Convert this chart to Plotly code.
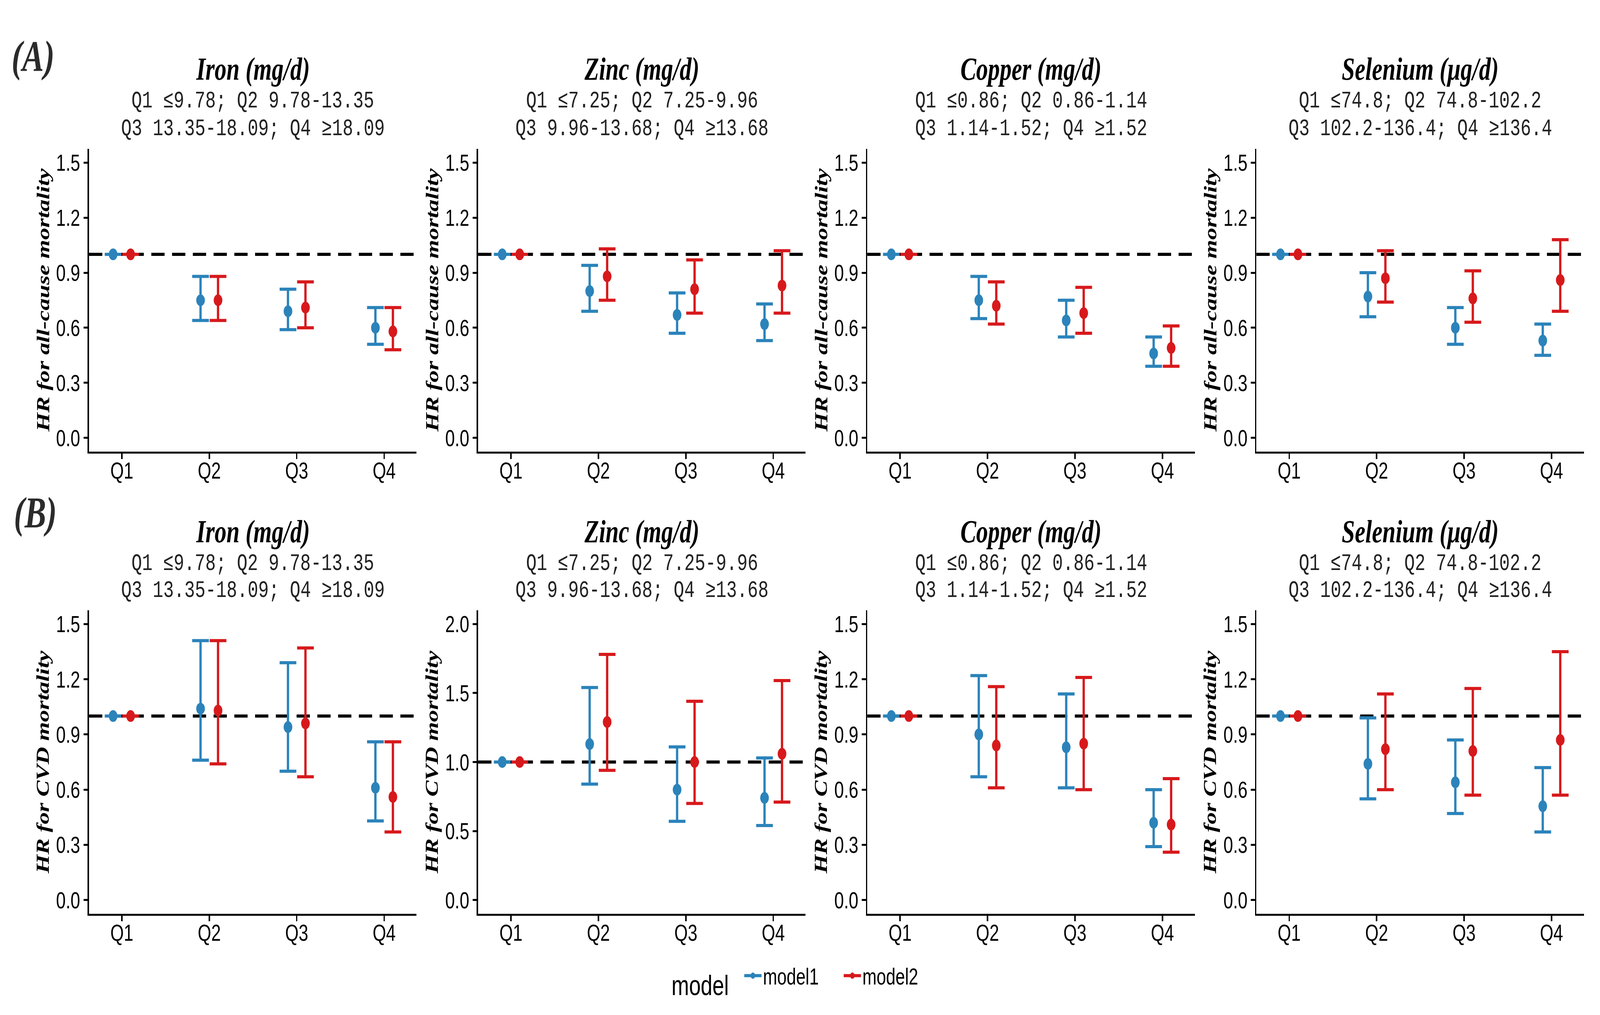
import plotly.graph_objects as go

# quartile labels and nutrient panels
quartiles = ["Q1", "Q2", "Q3", "Q4"]
nutrients = ["Iron (mg/d)", "Zinc (mg/d)", "Copper (mg/d)", "Selenium (μg/d)"]
cut_line1 = ["Q1 ≤9.78; Q2 9.78-13.35", "Q1 ≤7.25; Q2 7.25-9.96",
             "Q1 ≤0.86; Q2 0.86-1.14", "Q1 ≤74.8; Q2 74.8-102.2"]
cut_line2 = ["Q3 13.35-18.09; Q4 ≥18.09", "Q3 9.96-13.68; Q4 ≥13.68",
             "Q3 1.14-1.52; Q4 ≥1.52", "Q3 102.2-136.4; Q4 ≥136.4"]

# (A) all-cause mortality
iron_all_m1 = [1.00, 0.75, 0.69, 0.60]
iron_all_m1_lo = [1.00, 0.64, 0.59, 0.51]
iron_all_m1_hi = [1.00, 0.88, 0.81, 0.71]
iron_all_m2 = [1.00, 0.75, 0.71, 0.58]
iron_all_m2_lo = [1.00, 0.64, 0.60, 0.48]
iron_all_m2_hi = [1.00, 0.88, 0.85, 0.71]

zinc_all_m1 = [1.00, 0.80, 0.67, 0.62]
zinc_all_m1_lo = [1.00, 0.69, 0.57, 0.53]
zinc_all_m1_hi = [1.00, 0.94, 0.79, 0.73]
zinc_all_m2 = [1.00, 0.88, 0.81, 0.83]
zinc_all_m2_lo = [1.00, 0.75, 0.68, 0.68]
zinc_all_m2_hi = [1.00, 1.03, 0.97, 1.02]

copper_all_m1 = [1.00, 0.75, 0.64, 0.46]
copper_all_m1_lo = [1.00, 0.65, 0.55, 0.39]
copper_all_m1_hi = [1.00, 0.88, 0.75, 0.55]
copper_all_m2 = [1.00, 0.72, 0.68, 0.49]
copper_all_m2_lo = [1.00, 0.62, 0.57, 0.39]
copper_all_m2_hi = [1.00, 0.85, 0.82, 0.61]

selenium_all_m1 = [1.00, 0.77, 0.60, 0.53]
selenium_all_m1_lo = [1.00, 0.66, 0.51, 0.45]
selenium_all_m1_hi = [1.00, 0.90, 0.71, 0.62]
selenium_all_m2 = [1.00, 0.87, 0.76, 0.86]
selenium_all_m2_lo = [1.00, 0.74, 0.63, 0.69]
selenium_all_m2_hi = [1.00, 1.02, 0.91, 1.08]

# (B) CVD mortality
iron_cvd_m1 = [1.00, 1.04, 0.94, 0.61]
iron_cvd_m1_lo = [1.00, 0.76, 0.70, 0.43]
iron_cvd_m1_hi = [1.00, 1.41, 1.29, 0.86]
iron_cvd_m2 = [1.00, 1.03, 0.96, 0.56]
iron_cvd_m2_lo = [1.00, 0.74, 0.67, 0.37]
iron_cvd_m2_hi = [1.00, 1.41, 1.37, 0.86]

zinc_cvd_m1 = [1.00, 1.13, 0.80, 0.74]
zinc_cvd_m1_lo = [1.00, 0.84, 0.57, 0.54]
zinc_cvd_m1_hi = [1.00, 1.54, 1.11, 1.03]
zinc_cvd_m2 = [1.00, 1.29, 1.00, 1.06]
zinc_cvd_m2_lo = [1.00, 0.94, 0.70, 0.71]
zinc_cvd_m2_hi = [1.00, 1.78, 1.44, 1.59]

copper_cvd_m1 = [1.00, 0.90, 0.83, 0.42]
copper_cvd_m1_lo = [1.00, 0.67, 0.61, 0.29]
copper_cvd_m1_hi = [1.00, 1.22, 1.12, 0.60]
copper_cvd_m2 = [1.00, 0.84, 0.85, 0.41]
copper_cvd_m2_lo = [1.00, 0.61, 0.60, 0.26]
copper_cvd_m2_hi = [1.00, 1.16, 1.21, 0.66]

selenium_cvd_m1 = [1.00, 0.74, 0.64, 0.51]
selenium_cvd_m1_lo = [1.00, 0.55, 0.47, 0.37]
selenium_cvd_m1_hi = [1.00, 0.99, 0.87, 0.72]
selenium_cvd_m2 = [1.00, 0.82, 0.81, 0.87]
selenium_cvd_m2_lo = [1.00, 0.60, 0.57, 0.57]
selenium_cvd_m2_hi = [1.00, 1.12, 1.15, 1.35]

rows = [
    dict(tag="(A)", ylab="HR for all-cause mortality", panels=[
        (iron_all_m1, iron_all_m1_lo, iron_all_m1_hi, iron_all_m2, iron_all_m2_lo, iron_all_m2_hi),
        (zinc_all_m1, zinc_all_m1_lo, zinc_all_m1_hi, zinc_all_m2, zinc_all_m2_lo, zinc_all_m2_hi),
        (copper_all_m1, copper_all_m1_lo, copper_all_m1_hi, copper_all_m2, copper_all_m2_lo, copper_all_m2_hi),
        (selenium_all_m1, selenium_all_m1_lo, selenium_all_m1_hi, selenium_all_m2, selenium_all_m2_lo, selenium_all_m2_hi),
    ]),
    dict(tag="(B)", ylab="HR for CVD mortality", panels=[
        (iron_cvd_m1, iron_cvd_m1_lo, iron_cvd_m1_hi, iron_cvd_m2, iron_cvd_m2_lo, iron_cvd_m2_hi),
        (zinc_cvd_m1, zinc_cvd_m1_lo, zinc_cvd_m1_hi, zinc_cvd_m2, zinc_cvd_m2_lo, zinc_cvd_m2_hi),
        (copper_cvd_m1, copper_cvd_m1_lo, copper_cvd_m1_hi, copper_cvd_m2, copper_cvd_m2_lo, copper_cvd_m2_hi),
        (selenium_cvd_m1, selenium_cvd_m1_lo, selenium_cvd_m1_hi, selenium_cvd_m2, selenium_cvd_m2_lo, selenium_cvd_m2_hi),
    ]),
]

W, H = 5551, 2598
BLUE = "#2B83BA"
RED = "#D7191C"
models = [("model1", BLUE, -0.1), ("model2", RED, 0.1)]

# pixel layout of the 2x4 grid (left edge of each panel, top/bottom of each row)
panel_left = [309, 1659, 3009, 4359]
panel_w = 1136
row_top = [381, 1562]
row_bottom = [1156, 2339]
title_y = [[176, 258, 329], [1360, 1442, 1511]]
tag_pos = [(114, 144), (122, 1312)]


def px(x):
    return x / W


def py(y):
    return 1 - y / H


fig = go.Figure()
annotations = []
shapes = []
k = 0
for r, row in enumerate(rows):
    for c, series in enumerate(row["panels"]):
        k += 1
        xa = "x" if k == 1 else "x%d" % k
        ya = "y" if k == 1 else "y%d" % k
        pos = list(range(1, len(quartiles) + 1))
        for m, (name, color, off) in enumerate(models):
            hr, lo, hi = series[3 * m], series[3 * m + 1], series[3 * m + 2]
            fig.add_trace(go.Scatter(
                x=[p + off for p in pos], y=hr, mode="markers", name=name,
                xaxis=xa, yaxis=ya, showlegend=False,
                marker=dict(color=color, size=30),
                error_y=dict(type="data", symmetric=False,
                             array=[h - v for h, v in zip(hi, hr)],
                             arrayminus=[v - l for v, l in zip(hr, lo)],
                             color=color, thickness=8, width=29),
            ))
        top = max(max(s) for s in series)
        if top > 1.5:
            yrange, dtick = [-0.1, 2.1], 0.5
        else:
            yrange, dtick = [-0.075, 1.575], 0.3
        x0 = panel_left[c]
        axis_common = dict(showline=True, linecolor="black", linewidth=5,
                           ticks="outside", ticklen=14, tickwidth=5, tickcolor="black",
                           showgrid=False, zeroline=False,
                           tickfont=dict(family="Liberation Sans", size=60, color="black"))
        fig.layout["xaxis%d" % k] = dict(
            domain=[px(x0), px(x0 + panel_w)], anchor=ya, range=[0.625, 4.37],
            tickvals=pos, ticktext=quartiles, ticklabelstandoff=-22, **axis_common)
        fig.layout["yaxis%d" % k] = dict(
            domain=[py(row_bottom[r]), py(row_top[r])], anchor=xa, range=yrange,
            tick0=0, dtick=dtick, tickformat=".1f", **axis_common)
        shapes.append(dict(type="line", xref="%s domain" % xa, yref=ya,
                           x0=0, x1=1, y0=1, y1=1, layer="below",
                           line=dict(color="black", width=8, dash="46px,26px")))
        cx = px(x0 + panel_w / 2)
        annotations.append(dict(x=cx, y=py(title_y[r][0]), xref="paper", yref="paper",
                                text="<b><i>%s</i></b>" % nutrients[c], showarrow=False,
                                xanchor="center", yanchor="middle",
                                font=dict(family="Liberation Serif", size=82, color="black")))
        for line, yy in ((cut_line1[c], title_y[r][1]), (cut_line2[c], title_y[r][2])):
            annotations.append(dict(x=cx, y=py(yy), xref="paper", yref="paper",
                                    text=line, showarrow=False,
                                    xanchor="center", yanchor="middle",
                                    font=dict(family="Liberation Mono", size=61, color="#222222")))
        annotations.append(dict(x=px(x0 - 160), y=py((row_top[r] + row_bottom[r]) / 2),
                                xref="paper", yref="paper", textangle=-90,
                                text="<b><i>%s</i></b>" % row["ylab"], showarrow=False,
                                xanchor="center", yanchor="middle",
                                font=dict(family="Liberation Serif", size=62, color="black")))
    annotations.append(dict(x=px(tag_pos[r][0]), y=py(tag_pos[r][1]), xref="paper", yref="paper",
                            text="<b><i>%s</i></b>" % row["tag"], showarrow=False,
                            xanchor="center", yanchor="middle",
                            font=dict(family="Liberation Serif", size=112, color="#2b2b2b")))

# legend-only entries (dot with a short horizontal bar, like the ggplot key)
for name, color, _ in models:
    fig.add_trace(go.Scatter(x=[None], y=[None], mode="lines+markers", name=name,
                             marker=dict(color=color, size=30),
                             line=dict(color=color, width=8)))

fig.update_layout(
    width=W, height=H, margin=dict(l=0, r=0, t=0, b=0),
    paper_bgcolor="white", plot_bgcolor="white",
    annotations=annotations, shapes=shapes,
    legend=dict(orientation="h", x=0.504, xanchor="center", y=py(2505), yanchor="middle",
                title=dict(text="model&nbsp;&nbsp;", side="left",
                           font=dict(family="Liberation Sans", size=73, color="black")),
                font=dict(family="Liberation Sans", size=59, color="black"),
                itemwidth=60, entrywidth=270, entrywidthmode="pixels"),
)

# keep the whole figure inside the browser window even if it is smaller than the figure
fit_js = """
var gd = document.getElementById('{plot_id}');
document.documentElement.style.margin = '0';
document.body.style.margin = '0';
document.body.style.overflow = 'hidden';
var sx = window.innerWidth / %d, sy = window.innerHeight / %d;
if (Math.abs(sx - 1) > 0.002 || Math.abs(sy - 1) > 0.002) {
    gd.style.transformOrigin = '0 0';
    gd.style.transform = 'scale(' + sx + ',' + sy + ')';
}
""" % (W, H)

fig.write_html("out.html", post_script=fit_js, config={"displayModeBar": False})
